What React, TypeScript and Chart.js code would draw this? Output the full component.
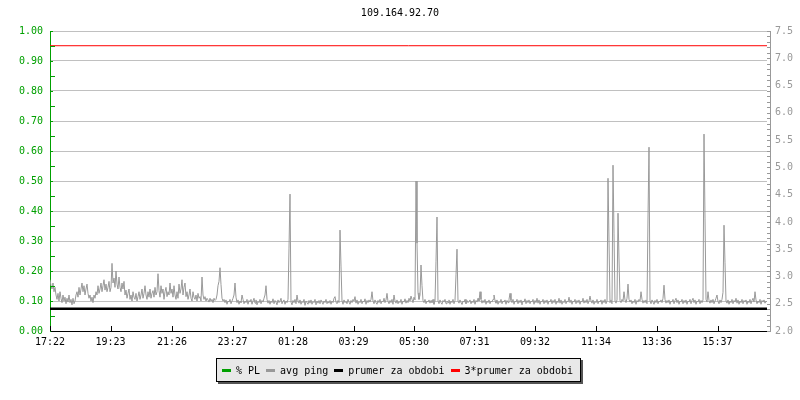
import React, { useEffect, useRef } from 'react';
import { Chart, registerables } from 'chart.js';

Chart.register(...registerables);

const chartTitle = '109.164.92.70';
const FONT = '"DejaVu Sans Mono", monospace';
const START_LABEL = '17:22';
const SAMPLE_MINUTES = 2;
const SPAN_MINUTES = 1434;

const timeLabels = ['17:22', '19:23', '21:26', '23:27', '01:28', '03:29', '05:30', '07:31', '09:32', '11:34', '13:36', '15:37'];

// % packet loss (no losses in the period)
const plValues: number[] = [];

// avg ping in ms, one sample every 2 minutes (20 samples per row)
const pingValues = [
  2.94, 2.83, 2.77, 2.88, 2.72, 2.80, 2.66, 2.58, 2.69, 2.55, 2.72, 2.60, 2.52, 2.66, 2.55, 2.62, 2.50, 2.60, 2.53, 2.66,
  2.52, 2.58, 2.48, 2.60, 2.50, 2.55, 2.66, 2.72, 2.62, 2.80, 2.66, 2.77, 2.88, 2.72, 2.83, 2.66, 2.77, 2.86, 2.69, 2.60,
  2.66, 2.55, 2.62, 2.52, 2.66, 2.60, 2.72, 2.66, 2.83, 2.69, 2.77, 2.88, 2.72, 2.83, 2.94, 2.75, 2.86, 2.72, 2.80, 2.91,
  2.72, 2.80, 3.24, 2.88, 2.97, 2.80, 3.10, 2.86, 2.77, 2.99, 2.80, 2.72, 2.88, 2.77, 2.91, 2.66, 2.75, 2.60, 2.69, 2.77,
  2.58, 2.66, 2.55, 2.72, 2.62, 2.58, 2.69, 2.55, 2.63, 2.72, 2.58, 2.66, 2.77, 2.60, 2.69, 2.83, 2.66, 2.58, 2.72, 2.62,
  2.77, 2.60, 2.69, 2.74, 2.62, 2.80, 2.66, 2.72, 3.05, 2.74, 2.62, 2.83, 2.69, 2.77, 2.58, 2.72, 2.80, 2.63, 2.72, 2.66,
  2.88, 2.69, 2.77, 2.62, 2.83, 2.66, 2.58, 2.72, 2.60, 2.86, 2.69, 2.77, 2.94, 2.66, 2.80, 2.88, 2.63, 2.72, 2.58, 2.66,
  2.77, 2.60, 2.55, 2.72, 2.62, 2.58, 2.66, 2.55, 2.69, 2.60, 2.63, 2.55, 2.99, 2.66, 2.58, 2.63, 2.55, 2.60, 2.57, 2.53,
  2.60, 2.55, 2.58, 2.52, 2.60, 2.56, 2.58, 2.66, 2.83, 2.91, 3.16, 2.85, 2.60, 2.55, 2.58, 2.52, 2.57, 2.49, 2.55, 2.53,
  2.58, 2.50, 2.55, 2.60, 2.66, 2.88, 2.62, 2.52, 2.57, 2.49, 2.55, 2.52, 2.66, 2.58, 2.50, 2.55, 2.52, 2.58, 2.49, 2.56,
  2.53, 2.58, 2.49, 2.55, 2.60, 2.51, 2.57, 2.48, 2.54, 2.52, 2.58, 2.50, 2.56, 2.53, 2.60, 2.66, 2.83, 2.58, 2.51, 2.56,
  2.49, 2.55, 2.52, 2.59, 2.50, 2.56, 2.53, 2.48, 2.57, 2.52, 2.55, 2.60, 2.50, 2.54, 2.57, 2.49, 2.55, 2.52, 2.58, 3.52,
  4.51, 2.53, 2.48, 2.56, 2.52, 2.58, 2.50, 2.66, 2.55, 2.51, 2.57, 2.49, 2.54, 2.52, 2.58, 2.47, 2.55, 2.52, 2.49, 2.56,
  2.51, 2.57, 2.49, 2.54, 2.52, 2.58, 2.48, 2.55, 2.51, 2.56, 2.50, 2.57, 2.53, 2.49, 2.55, 2.52, 2.58, 2.50, 2.54, 2.51,
  2.56, 2.49, 2.55, 2.52, 2.60, 2.63, 2.53, 2.50, 2.56, 2.52, 3.85, 3.19, 2.55, 2.49, 2.57, 2.52, 2.54, 2.50, 2.58, 2.53,
  2.49, 2.56, 2.52, 2.58, 2.55, 2.63, 2.51, 2.57, 2.49, 2.54, 2.52, 2.58, 2.50, 2.55, 2.53, 2.59, 2.49, 2.56, 2.52, 2.57,
  2.53, 2.58, 2.72, 2.55, 2.50, 2.57, 2.52, 2.49, 2.56, 2.52, 2.58, 2.50, 2.55, 2.53, 2.60, 2.52, 2.57, 2.69, 2.54, 2.50,
  2.56, 2.52, 2.58, 2.49, 2.66, 2.55, 2.51, 2.57, 2.50, 2.54, 2.52, 2.58, 2.49, 2.55, 2.53, 2.59, 2.51, 2.56, 2.52, 2.60,
  2.55, 2.64, 2.58, 2.52, 2.62, 2.57, 4.75, 3.61, 2.70, 2.58, 2.66, 3.21, 2.83, 2.56, 2.52, 2.58, 2.50, 2.55, 2.53, 2.57,
  2.51, 2.56, 2.52, 2.58, 2.49, 2.55, 3.28, 4.09, 2.55, 2.50, 2.57, 2.52, 2.49, 2.56, 2.53, 2.58, 2.50, 2.55, 2.52, 2.57,
  2.49, 2.55, 2.52, 2.58, 2.50, 2.56, 3.03, 3.50, 2.55, 2.51, 2.57, 2.52, 2.49, 2.55, 2.53, 2.58, 2.50, 2.56, 2.52, 2.54,
  2.57, 2.50, 2.55, 2.52, 2.58, 2.49, 2.56, 2.53, 2.60, 2.55, 2.72, 2.58, 2.51, 2.56, 2.52, 2.58, 2.49, 2.55, 2.52, 2.57,
  2.50, 2.55, 2.53, 2.58, 2.66, 2.56, 2.51, 2.57, 2.49, 2.54, 2.52, 2.58, 2.50, 2.55, 2.53, 2.57, 2.49, 2.56, 2.52, 2.58,
  2.69, 2.56, 2.52, 2.58, 2.49, 2.55, 2.53, 2.58, 2.50, 2.56, 2.52, 2.57, 2.48, 2.55, 2.53, 2.59, 2.50, 2.56, 2.52, 2.57,
  2.50, 2.55, 2.53, 2.58, 2.49, 2.56, 2.52, 2.60, 2.51, 2.57, 2.49, 2.55, 2.53, 2.58, 2.50, 2.56, 2.52, 2.57, 2.49, 2.55,
  2.53, 2.58, 2.50, 2.56, 2.52, 2.58, 2.49, 2.55, 2.52, 2.60, 2.51, 2.57, 2.49, 2.54, 2.52, 2.58, 2.50, 2.55, 2.53, 2.62,
  2.52, 2.57, 2.49, 2.55, 2.53, 2.58, 2.50, 2.56, 2.52, 2.57, 2.49, 2.55, 2.53, 2.60, 2.51, 2.56, 2.52, 2.58, 2.50, 2.55,
  2.64, 2.55, 2.51, 2.57, 2.49, 2.54, 2.52, 2.58, 2.50, 2.55, 2.53, 2.57, 2.49, 2.56, 2.52, 2.58, 2.50, 2.55, 4.80, 3.65,
  2.52, 2.57, 2.50, 5.04, 3.78, 2.55, 2.51, 2.57, 4.16, 3.32, 2.56, 2.52, 2.58, 2.55, 2.72, 2.57, 2.52, 2.60, 2.86, 2.58,
  2.53, 2.57, 2.50, 2.55, 2.52, 2.58, 2.49, 2.56, 2.53, 2.58, 2.55, 2.72, 2.58, 2.51, 2.56, 2.52, 2.57, 2.50, 4.09, 5.37,
  2.55, 2.50, 2.57, 2.53, 2.49, 2.56, 2.52, 2.58, 2.50, 2.55, 2.53, 2.57, 2.52, 2.60, 2.84, 2.58, 2.51, 2.56, 2.52, 2.57,
  2.49, 2.55, 2.53, 2.58, 2.50, 2.56, 2.60, 2.52, 2.57, 2.49, 2.55, 2.53, 2.58, 2.50, 2.56, 2.52, 2.57, 2.49, 2.55, 2.53,
  2.58, 2.50, 2.56, 2.60, 2.52, 2.57, 2.49, 2.55, 2.53, 2.58, 2.50, 2.56, 2.52, 2.57, 5.61, 4.07, 2.58, 2.53, 2.72, 2.56,
  2.51, 2.57, 2.52, 2.58, 2.50, 2.55, 2.60, 2.66, 2.54, 2.50, 2.57, 2.52, 2.58, 2.71, 3.94, 3.25, 2.55, 2.51, 2.57, 2.49,
  2.55, 2.52, 2.58, 2.50, 2.56, 2.53, 2.60, 2.51, 2.57, 2.49, 2.55, 2.52, 2.58, 2.50, 2.56, 2.53, 2.57, 2.49, 2.55, 2.52,
  2.58, 2.50, 2.56, 2.60, 2.53, 2.72, 2.57, 2.50, 2.55, 2.52, 2.58, 2.49, 2.56, 2.53, 2.57, 2.51, 2.55, 2.53,
];

const avgPing = 2.41; // prumer za obdobi
const tripleAvgPing = 7.23; // 3*prumer za obdobi

const GREEN = '#00a000';
const GRAY = '#999999';
const RED = '#ff0000';
const BLACK = '#000000';

const legendItems = [
  { label: '% PL', color: GREEN },
  { label: 'avg ping', color: GRAY },
  { label: 'prumer za obdobi', color: BLACK },
  { label: '3*prumer za obdobi', color: RED },
];

function minutesFromStart(label: string): number {
  const [h, m] = label.split(':').map(Number);
  const [sh, sm] = START_LABEL.split(':').map(Number);
  let t = h * 60 + m - (sh * 60 + sm);
  if (t < 0) t += 1440;
  return t;
}

const tickMinutes = timeLabels.map(minutesFromStart);

const axisDecor = {
  id: 'axisDecor',
  afterDraw(chart: any) {
    const { ctx, chartArea } = chart;
    const { left, right, top, bottom } = chartArea;
    const y = chart.scales.y;
    const y1 = chart.scales.y1;
    const x = chart.scales.x;
    ctx.save();
    ctx.lineWidth = 1;
    // left minor ticks (green)
    ctx.strokeStyle = GREEN;
    for (let k = 1; k <= 20; k++) {
      const py = Math.round(y.getPixelForValue(k * 0.05)) + 0.5;
      ctx.beginPath();
      ctx.moveTo(left, py);
      ctx.lineTo(left + (k % 2 === 1 ? 5 : 3), py);
      ctx.stroke();
    }
    // right axis line + ticks (gray)
    ctx.strokeStyle = GRAY;
    const ax = right + 3.5;
    ctx.beginPath();
    ctx.moveTo(ax, top);
    ctx.lineTo(ax, bottom + 1);
    ctx.stroke();
    for (let k = 0; k <= 55; k++) {
      const py = Math.round(y1.getPixelForValue(2 + k * 0.1)) + 0.5;
      ctx.beginPath();
      ctx.moveTo(right, py);
      ctx.lineTo(ax, py);
      ctx.stroke();
    }
    // bottom ticks (black, pointing up)
    ctx.strokeStyle = BLACK;
    tickMinutes.forEach((m) => {
      const px = Math.round(x.getPixelForValue(m)) + 0.5;
      ctx.beginPath();
      ctx.moveTo(px, bottom - 5);
      ctx.lineTo(px, bottom);
      ctx.stroke();
    });
    ctx.restore();
  },
};

export default function App() {
  const canvasRef = useRef<HTMLCanvasElement | null>(null);

  useEffect(() => {
    document.body.style.margin = '0';
    const canvas = canvasRef.current;
    if (!canvas) return;
    const pingData = pingValues.map((v, i) => ({ x: i * SAMPLE_MINUTES, y: v }));
    const chart = new Chart(canvas, {
      type: 'line',
      data: {
        datasets: [
          {
            label: '% PL',
            data: plValues.map((v, i) => ({ x: i * SAMPLE_MINUTES, y: v })),
            yAxisID: 'y',
            borderColor: GREEN,
            borderWidth: 1,
            pointRadius: 0,
          },
          {
            label: '3*prumer za obdobi',
            data: [
              { x: 0, y: tripleAvgPing },
              { x: SPAN_MINUTES, y: tripleAvgPing },
            ],
            yAxisID: 'y1',
            borderColor: RED,
            borderWidth: 1,
            pointRadius: 0,
          },
          {
            label: 'prumer za obdobi',
            data: [
              { x: 0, y: avgPing },
              { x: SPAN_MINUTES, y: avgPing },
            ],
            yAxisID: 'y1',
            borderColor: BLACK,
            borderWidth: 2.5,
            pointRadius: 0,
          },
          {
            label: 'avg ping',
            data: pingData,
            yAxisID: 'y1',
            borderColor: GRAY,
            borderWidth: 1,
            pointRadius: 0,
            tension: 0,
          },
        ],
      },
      options: {
        responsive: false,
        animation: false,
        devicePixelRatio: 1,
        layout: { padding: 0 },
        plugins: {
          legend: { display: false },
          tooltip: { enabled: false },
          title: {
            display: true,
            text: chartTitle,
            color: BLACK,
            font: { family: FONT, size: 10, weight: 'normal' },
            padding: { top: 7, bottom: 12 },
          },
        },
        scales: {
          x: {
            type: 'linear',
            min: 0,
            max: SPAN_MINUTES,
            afterBuildTicks: (s: any) => {
              s.ticks = tickMinutes.map((v) => ({ value: v }));
            },
            afterFit: (s: any) => {
              s.height = 69;
            },
            ticks: {
              autoSkip: false,
              maxRotation: 0,
              color: BLACK,
              padding: 5,
              font: { family: FONT, size: 10 },
              callback: (v: any) => {
                const idx = tickMinutes.indexOf(Number(v));
                return idx >= 0 ? timeLabels[idx] : '';
              },
            },
            grid: { display: false, drawTicks: false },
            border: { display: true, color: BLACK, width: 1 },
          },
          y: {
            position: 'left',
            min: 0,
            max: 1,
            afterFit: (s: any) => {
              s.width = 50;
            },
            ticks: {
              stepSize: 0.1,
              color: GREEN,
              padding: 7,
              font: { family: FONT, size: 10 },
              callback: (v: any) => Number(v).toFixed(2),
            },
            grid: { color: '#c0c0c0', drawTicks: false, lineWidth: 1 },
            border: { display: true, color: GREEN, width: 1 },
          },
          y1: {
            position: 'right',
            min: 2,
            max: 7.5,
            afterFit: (s: any) => {
              s.width = 33;
            },
            ticks: {
              stepSize: 0.5,
              color: GRAY,
              padding: 8,
              font: { family: FONT, size: 10 },
              callback: (v: any) => Number(v).toFixed(1),
            },
            grid: { display: false, drawTicks: false },
            border: { display: false },
          },
        },
      },
      plugins: [axisDecor],
    } as any);
    return () => chart.destroy();
  }, []);

  return (
    <div style={{ position: 'relative', width: 800, height: 400, background: '#fff' }}>
      <canvas ref={canvasRef} width={800} height={400} style={{ display: 'block' }} />
      <div
        style={{
          position: 'absolute',
          left: 216,
          top: 358,
          height: 22,
          boxSizing: 'content-box',
          padding: '0 7px 0 5px',
          border: '1px solid #000',
          background: '#e8e8e8',
          boxShadow: '2px 2px 0 #555',
          display: 'flex',
          alignItems: 'center',
          fontFamily: FONT,
          fontSize: 10,
          color: '#000',
          whiteSpace: 'nowrap',
        }}
      >
        {legendItems.map((it, i) => (
          <span key={it.label} style={{ display: 'flex', alignItems: 'center', marginLeft: i === 0 ? 0 : 6 }}>
            <span style={{ display: 'inline-block', width: 9, height: 3, background: it.color, marginRight: 5 }} />
            <span>{it.label}</span>
          </span>
        ))}
      </div>
    </div>
  );
}
